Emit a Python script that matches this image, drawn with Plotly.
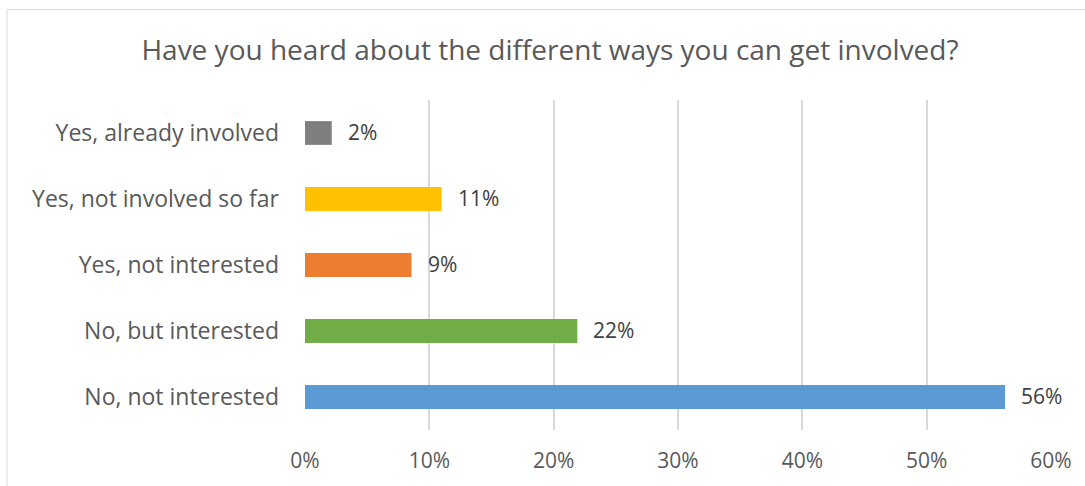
import plotly.graph_objects as go

# Survey responses (share of respondents)
categories = [
    "Yes, already involved",
    "Yes, not involved so far",
    "Yes, not interested",
    "No, but interested",
    "No, not interested",
]
shares = [0.0215, 0.1098, 0.0857, 0.2190, 0.5630]
bar_colors = ["#7F7F7F", "#FFC000", "#ED7D31", "#70AD47", "#5B9BD5"]
x_ticks = [0, 0.1, 0.2, 0.3, 0.4, 0.5, 0.6]
x_tick_labels = ["0%", "10%", "20%", "30%", "40%", "50%", "60%"]

W, H = 1085, 486
ML, MR, MT, MB = 305, 34, 100, 54
FONT = "Open Sans, Calibri, Carlito, sans-serif"

fig = go.Figure(
    go.Bar(
        y=categories,
        x=shares,
        orientation="h",
        marker=dict(color=bar_colors, line=dict(width=0)),
        width=0.36,
        hoverinfo="skip",
    )
)

# Value labels placed just right of each bar end
for cat, val in zip(categories, shares):
    fig.add_annotation(
        x=val, y=cat, xref="x", yref="y",
        text=f"{val:.0%}", showarrow=False,
        xanchor="left", yanchor="middle", xshift=14, yshift=1,
        font=dict(family=FONT, size=21, color="#404040"),
    )

# Chart area border
pw = W - ML - MR
ph = H - MT - MB
fig.add_shape(
    type="rect", xref="paper", yref="paper",
    x0=(7 - ML) / pw, x1=(W + 20 - ML) / pw,
    y0=(H - MB - (H + 20)) / ph, y1=(H - MB - 9) / ph,
    line=dict(color="#D9D9D9", width=1), fillcolor="rgba(0,0,0,0)", layer="below",
)

fig.update_layout(
    width=W, height=H,
    margin=dict(l=ML, r=MR, t=MT, b=MB),
    paper_bgcolor="white", plot_bgcolor="white",
    showlegend=False,
    title=dict(
        text="Have you heard about the different ways you can get involved?",
        x=550 / W, xanchor="center", y=1 - 50 / H, yanchor="middle",
        font=dict(family=FONT, size=28, color="#595959"),
    ),
    xaxis=dict(
        range=[0, 0.6], tickvals=x_ticks, ticktext=x_tick_labels,
        showgrid=True, gridcolor="#D9D9D9", gridwidth=1.5,
        zeroline=False, showline=False, ticks="",
        ticklabelstandoff=16,
        tickfont=dict(family=FONT, size=21, color="#595959"),
        fixedrange=True,
    ),
    yaxis=dict(
        categoryorder="array", categoryarray=categories, autorange="reversed",
        showgrid=False, zeroline=False, showline=False, ticks="",
        ticklabelstandoff=25,
        tickfont=dict(family=FONT, size=23, color="#595959"),
        fixedrange=True,
    ),
)

fig.write_html("out.html", config={"displayModeBar": False})
